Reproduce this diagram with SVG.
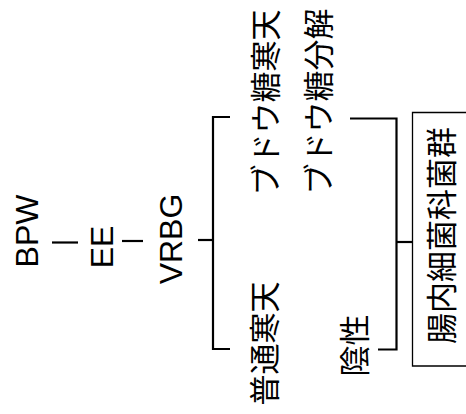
<svg xmlns="http://www.w3.org/2000/svg" width="466" height="414" viewBox="0 0 466 414">
<style>
.lat{font-family:"Liberation Sans",Arial,sans-serif;font-size:32px;fill:#000;text-anchor:middle}
.cjk{font-family:"Noto Sans CJK JP","Noto Sans CJK SC",sans-serif;font-size:31px;fill:#000;text-anchor:middle}
.ln{stroke:#000;stroke-width:2.2;fill:none}
.box{stroke:#000;stroke-width:1.3;fill:none}
</style>
<rect width="466" height="414" fill="#fff"/>
<g id="connectors">
<line class="ln" x1="52" y1="242.5" x2="78" y2="242.5"/>
<line class="ln" x1="122" y1="241" x2="143" y2="241"/>
<line class="ln" x1="198" y1="240" x2="213" y2="240"/>
<path class="ln" d="M230 117 H213 V349 H230"/>
<path class="ln" d="M350 118.5 H396.5 V349.5 H378"/>
<line class="ln" x1="396.5" y1="242" x2="413" y2="242"/>
</g>
<g id="bpw"><text class="lat" transform="translate(37.5,231) rotate(-90)">BPW</text></g>
<g id="ee"><text class="lat" transform="translate(112.5,247) rotate(-90)">EE</text></g>
<g id="vrbg"><text class="lat" transform="translate(181.5,239) rotate(-90)">VRBG</text></g>
<g id="glucose-agar"><text class="cjk" transform="translate(277,102.5) rotate(-90)">ブドウ糖寒天</text></g>
<g id="glucose-decomp"><text class="cjk" transform="translate(330,101.5) rotate(-90)">ブドウ糖分解</text></g>
<g id="nutrient-agar"><text class="cjk" transform="translate(276,343.5) rotate(-90)">普通寒天</text></g>
<g id="negative"><text class="cjk" transform="translate(366,345.5) rotate(-90)">陰性</text></g>
<g id="enterobacteriaceae">
<path class="box" d="M470 112.5 H412.5 V366 H470"/>
<text class="cjk" transform="translate(453,235.5) rotate(-90)">腸内細菌科菌群</text>
</g>
</svg>
